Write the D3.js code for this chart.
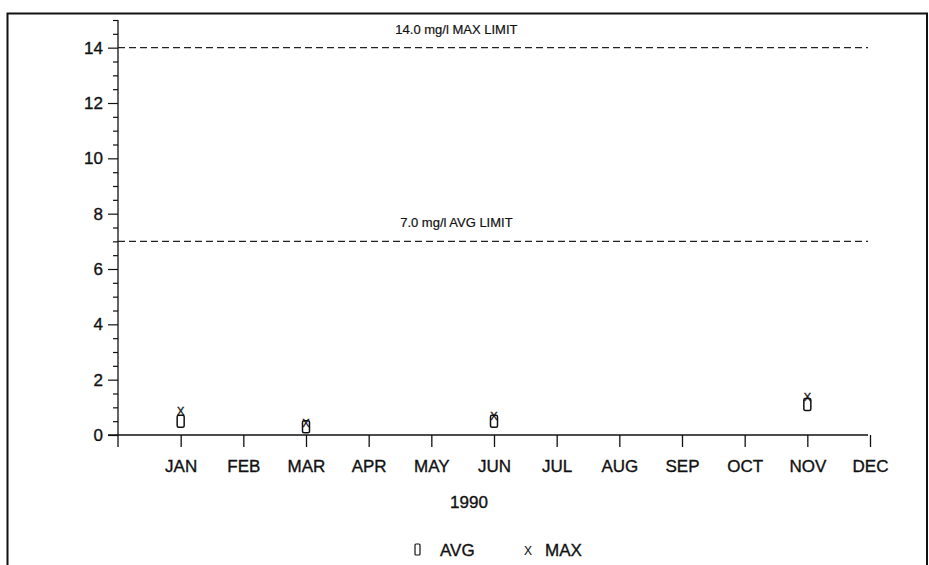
<!DOCTYPE html>
<meta charset="utf-8">
<head>
    <title>Monthly AVG / MAX</title>
    <script src="https://cdnjs.cloudflare.com/ajax/libs/d3/7.8.5/d3.min.js"></script>
    <style>
    body { margin: 0; background: #fff; }
    svg text { font-family: "Liberation Sans", Arial, sans-serif; fill: #111; stroke: #111; stroke-width: 0.35px; }
    </style>
</head>
<body>
<svg id="chart"></svg>
<script>
    // data
    var months = ["JAN","FEB","MAR","APR","MAY","JUN","JUL","AUG","SEP","OCT","NOV","DEC"];
    var sampleMonths = [1, 3, 6, 11];
    var avgValues = [0.5, 0.3, 0.5, 1.1];
    var maxValues = [0.88, 0.42, 0.7, 1.38];
    var limitValues = [14, 7];
    var limitLabels = ["14.0 mg/l MAX LIMIT", "7.0 mg/l AVG LIMIT"];
    var yTicks = [0, 2, 4, 6, 8, 10, 12, 14];

    var W = 929, H = 565;
    var svg = d3.select("#chart").attr("width", W).attr("height", H);

    var x = d3.scaleLinear().domain([0, 12]).range([118, 870]);
    var y = d3.scaleLinear().domain([0, 15]).range([435, 20]);

    // frame
    svg.append("path")
        .attr("d", "M7.5," + H + "V13.5H" + (W - 2) + "V" + H)
        .attr("fill", "none").attr("stroke", "#111").attr("stroke-width", 2);

    // y axis, minor ticks every 0.5
    var minor = d3.range(0, 15.01, 0.5).filter(function(v){ return v % 2 != 0; });
    var yAxisMinor = d3.axisLeft(y).tickValues(minor).tickSize(5).tickFormat("");
    var yAxisMajor = d3.axisLeft(y).tickValues(yTicks).tickSize(10).tickPadding(5);

    var gy = svg.append("g").attr("transform", "translate(" + x(0) + ",0)");
    gy.call(yAxisMinor);
    gy.select(".domain").remove();
    var gy2 = svg.append("g").attr("transform", "translate(" + x(0) + ",0)");
    gy2.call(yAxisMajor);
    gy2.select(".domain").remove();
    gy2.selectAll("text").style("font-size", "17px");
    svg.selectAll(".tick line").attr("stroke", "#111").attr("stroke-width", 1.2);

    svg.append("line")
        .attr("x1", x(0)).attr("x2", x(0))
        .attr("y1", y(15)).attr("y2", y(0) + 12)
        .attr("stroke", "#111").attr("stroke-width", 1.3);

    // x axis
    var gx = svg.append("g").attr("transform", "translate(0," + y(0) + ")");
    gx.call(d3.axisBottom(x).tickValues(d3.range(1, 13)).tickSize(12).tickPadding(13)
        .tickFormat(function(d){ return months[d - 1]; }));
    gx.select(".domain").remove();
    gx.selectAll("line").attr("stroke", "#111").attr("stroke-width", 1.3);
    gx.selectAll("text").style("font-size", "17px");

    svg.append("line")
        .attr("x1", x(0) - 10).attr("x2", x(12) - 2)
        .attr("y1", y(0)).attr("y2", y(0))
        .attr("stroke", "#111").attr("stroke-width", 1.3);

    svg.append("text")
        .attr("x", x(5.6)).attr("y", 508)
        .attr("text-anchor", "middle").style("font-size", "17px")
        .text("1990");

    // limit lines
    limitValues.forEach(function(v, i) {
        svg.append("line")
            .attr("x1", x(0)).attr("x2", x(12) - 2)
            .attr("y1", y(v)).attr("y2", y(v))
            .attr("stroke", "#222").attr("stroke-width", 1.1)
            .attr("stroke-dasharray", "7,4");
        svg.append("text")
            .attr("x", x(5.4)).attr("y", y(v) - 14)
            .attr("text-anchor", "middle").style("font-size", "13px")
            .style("stroke-width", "0.2px")
            .text(limitLabels[i]);
    });

    // AVG boxes
    svg.append("g").selectAll("rect").data(sampleMonths)
        .enter().append("rect")
        .attr("x", function(d){ return x(d) - 3.5; })
        .attr("y", function(d, i){ return y(avgValues[i]) - 6; })
        .attr("width", 7).attr("height", 12)
        .attr("rx", 1.5)
        .attr("fill", "none").attr("stroke", "#111").attr("stroke-width", 1.5);

    // MAX crosses
    svg.append("g").selectAll("text").data(sampleMonths)
        .enter().append("text")
        .attr("x", function(d){ return x(d); })
        .attr("y", function(d, i){ return y(maxValues[i]) + 4; })
        .attr("text-anchor", "middle").style("font-size", "11px")
        .text("X");

    // legend
    var lg = svg.append("g");
    lg.append("rect").attr("x", 415).attr("y", 544).attr("width", 5).attr("height", 11)
        .attr("rx", 1).attr("fill", "none").attr("stroke", "#111").attr("stroke-width", 1.2);
    lg.append("text").attr("x", 440).attr("y", 556).style("font-size", "17px").text("AVG");
    lg.append("text").attr("x", 528).attr("y", 555).attr("text-anchor", "middle")
        .style("font-size", "12px").style("stroke-width", "0.1px").text("X");
    lg.append("text").attr("x", 545).attr("y", 556).style("font-size", "17px").text("MAX");
</script>
</body>
</html>
